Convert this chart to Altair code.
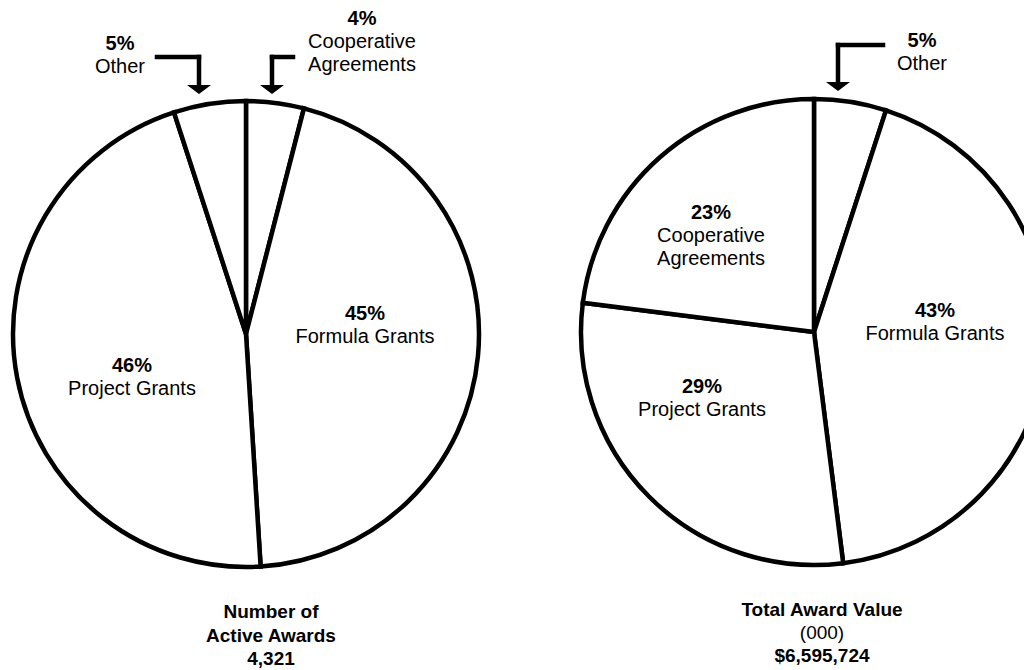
import altair as alt
import pandas as pd

# ---------------- data ----------------
left_categories = ["Cooperative Agreements", "Formula Grants", "Project Grants", "Other"]
left_percent = [4, 45, 46, 5]
right_categories = ["Other", "Formula Grants", "Project Grants", "Cooperative Agreements"]
right_percent = [5, 43, 29, 23]
left_caption = ["Number of", "Active Awards", "4,321"]
right_caption = ["Total Award Value", "(000)", "$6,595,724"]
caption_bold = [True, False, True]  # "(000)" is set in regular weight on the right
name_lines = {
    "Cooperative Agreements": ["Cooperative", "Agreements"],
    "Formula Grants": ["Formula Grants"],
    "Project Grants": ["Project Grants"],
    "Other": ["Other"],
}

# ---------------- layout (page pixels) ----------------
OFF = 8
W, H = 1016, 662
R = 233
LINE = 23
pies = {
    "left": {"center": (246, 334), "cats": left_categories, "pcts": left_percent},
    "right": {"center": (814, 332), "cats": right_categories, "pcts": right_percent},
}
label_pos = {
    ("left", "Cooperative Agreements"): (362, 25),
    ("left", "Other"): (120, 50),
    ("left", "Formula Grants"): (365, 320),
    ("left", "Project Grants"): (132, 372),
    ("right", "Other"): (922, 47),
    ("right", "Cooperative Agreements"): (711, 219),
    ("right", "Formula Grants"): (935, 317),
    ("right", "Project Grants"): (702, 393),
}
caption_pos = {"left": (271, 618, 23.5), "right": (822, 616, 23)}
# callout elbows: (start x, elbow x, y of horizontal, end y of vertical)
callouts = [
    (157, 199, 57, 85),
    (293, 272, 57, 85),
    (883, 838, 45, 82),
]
HEAD_H = 9

FONT = "Liberation Sans"

# ---------------- pies ----------------
layers = []
for key, p in pies.items():
    df = pd.DataFrame({
        "category": p["cats"],
        "percent": p["pcts"],
        "order": list(range(len(p["cats"]))),
    })
    cx, cy = p["center"]
    layers.append(
        alt.Chart(df).mark_arc(
            radius=R, fill="white", stroke="black", strokeWidth=4.5, strokeJoin="miter"
        ).encode(
            theta=alt.Theta("percent:Q", stack=True),
            order=alt.Order("order:Q"),
            detail="category:N",
            x=alt.value(cx - OFF),
            y=alt.value(cy - OFF),
        )
    )

# ---------------- labels ----------------
bold_rows, reg_rows, cap_bold_rows, cap_reg_rows = [], [], [], []
for key, p in pies.items():
    for cat, pct in zip(p["cats"], p["pcts"]):
        x, y0 = label_pos[(key, cat)]
        bold_rows.append({"x": x - OFF, "y": y0 - OFF, "t": f"{pct}%"})
        for i, line in enumerate(name_lines[cat]):
            reg_rows.append({"x": x - OFF, "y": y0 + LINE * (i + 1) - OFF, "t": line})

for key, lines in (("left", left_caption), ("right", right_caption)):
    x, y0, sp = caption_pos[key]
    for i, line in enumerate(lines):
        row = {"x": x - OFF, "y": y0 + sp * i - OFF, "t": line}
        if key == "right" and not caption_bold[i]:
            cap_reg_rows.append(row)
        else:
            cap_bold_rows.append(row)


def text_layer(rows, weight, size):
    return alt.Chart(pd.DataFrame(rows)).mark_text(
        font=FONT, fontSize=size, fontWeight=weight, align="center",
        baseline="alphabetic", color="black",
    ).encode(
        x=alt.X("x:Q", scale=None, axis=None),
        y=alt.Y("y:Q", scale=None, axis=None),
        text="t:N",
    )


layers.append(text_layer(bold_rows, "bold", 20))
layers.append(text_layer(reg_rows, "normal", 20))
layers.append(text_layer(cap_bold_rows, "bold", 19))
layers.append(text_layer(cap_reg_rows, "normal", 19))

# ---------------- callout arrows ----------------
seg_rows, head_rows = [], []
for sx, ex, hy, vy in callouts:
    seg_rows.append({"x": sx - OFF, "x2": ex - OFF, "y": hy - OFF, "y2": hy - OFF})
    seg_rows.append({"x": ex - OFF, "x2": ex - OFF, "y": hy - OFF, "y2": vy - OFF})
    head_rows.append({"x": ex - OFF, "y": vy + HEAD_H / 2 - OFF})

layers.append(
    alt.Chart(pd.DataFrame(seg_rows)).mark_rule(
        color="black", strokeWidth=4.5, strokeCap="square"
    ).encode(
        x=alt.X("x:Q", scale=None, axis=None),
        x2="x2:Q",
        y=alt.Y("y:Q", scale=None, axis=None),
        y2="y2:Q",
    )
)
layers.append(
    alt.Chart(pd.DataFrame(head_rows)).mark_point(
        shape="M-1,-0.375L1,-0.375L0,0.375Z", filled=True, size=576,
        color="black", opacity=1, strokeWidth=0,
    ).encode(
        x=alt.X("x:Q", scale=None, axis=None),
        y=alt.Y("y:Q", scale=None, axis=None),
    )
)

chart = alt.layer(*layers).properties(
    width=W, height=H, autosize=alt.AutoSizeParams(type="none"), padding=0,
    background="white",
).configure_view(stroke=None)

chart.save("out.html", embed_options={"renderer": "svg", "actions": False})
